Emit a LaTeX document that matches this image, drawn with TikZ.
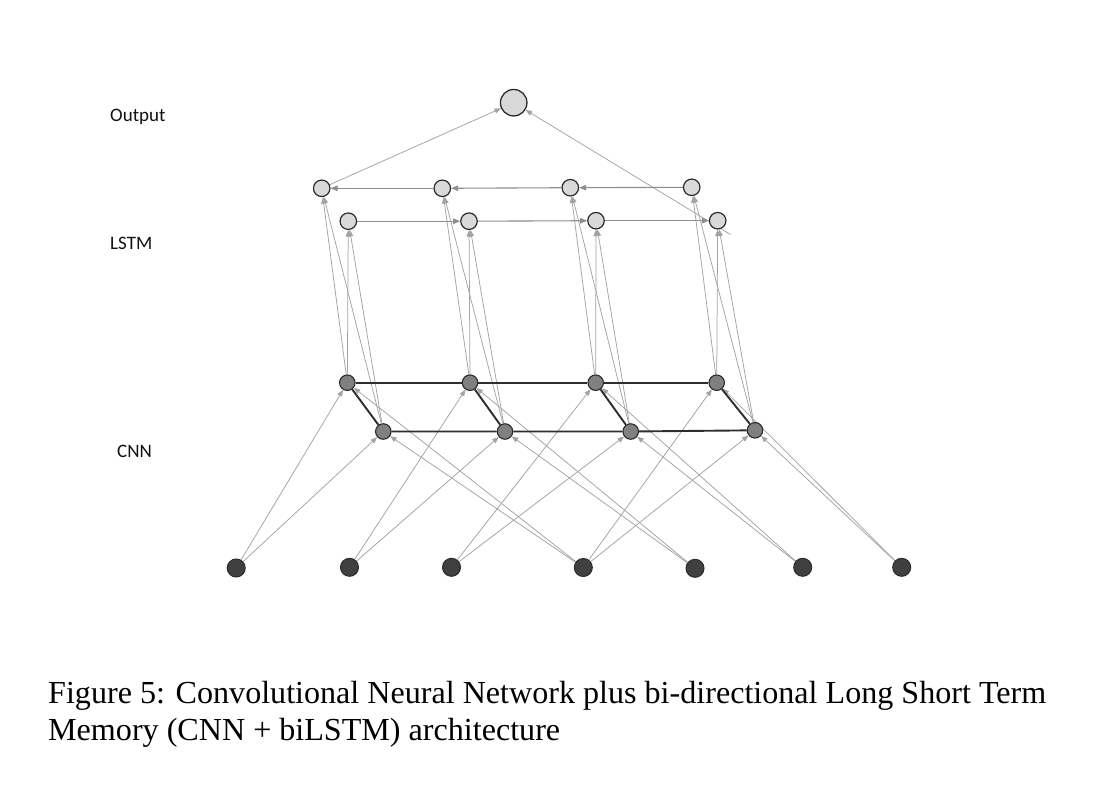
\documentclass[tikz,border=0pt]{standalone}
\usepackage{fontspec}
\setmainfont{Liberation Serif}
\newfontfamily\labelfont{Carlito}
\usetikzlibrary{arrows.meta,backgrounds}
\definecolor{nodeline}{HTML}{2B2B2B}
\definecolor{lightfill}{HTML}{D9D9D9}
\definecolor{midfill}{HTML}{808080}
\definecolor{darkfill}{HTML}{404040}
\definecolor{edgegray}{HTML}{A3A3A3}
\definecolor{recgray}{HTML}{8E8E8E}
\definecolor{darkline}{HTML}{2E2E2E}
\definecolor{textblack}{HTML}{111111}
\begin{document}
\begin{tikzpicture}[x=1pt,y=-1pt,
  outnode/.style={circle, draw=nodeline, fill=lightfill, line width=1.3pt, minimum size=26.5pt, inner sep=0pt},
  lstmnode/.style={circle, draw=nodeline, fill=lightfill, line width=1.2pt, minimum size=16.5pt, inner sep=0pt},
  cnnnode/.style={circle, draw=nodeline, fill=midfill, line width=1.1pt, minimum size=15.5pt, inner sep=0pt},
  innode/.style={circle, draw=nodeline, fill=darkfill, line width=1pt, minimum size=18pt, inner sep=0pt},
  edge/.style={draw=edgegray, line width=0.75pt, -{Triangle[length=6.5pt,width=5pt]}},
  recur/.style={draw=recgray, line width=1.1pt, -{Triangle[length=7pt,width=5.5pt]}},
  conv/.style={draw=darkline, line width=1.9pt},
  layerlabel/.style={font=\labelfont\fontsize{19}{22}\selectfont, text=textblack, anchor=base west, inner sep=0pt},
  captext/.style={font=\fontsize{32.1}{38}\selectfont, text=black, anchor=base west, inner sep=0pt}
]
\useasboundingbox (0,0) rectangle (1118,784);

% Output
\node[outnode] (Out) at (513.7,102.7) {};
% LSTM backward row
\node[lstmnode] (B1) at (321.7,188.3) {};
\node[lstmnode] (B2) at (442.3,188.3) {};
\node[lstmnode] (B3) at (570.3,187.7) {};
\node[lstmnode] (B4) at (691.7,187.3) {};
% LSTM forward row
\node[lstmnode] (F1) at (348.3,221.2) {};
\node[lstmnode] (F2) at (469.0,221.2) {};
\node[lstmnode] (F3) at (596.0,220.7) {};
\node[lstmnode] (F4) at (717.7,220.7) {};
% CNN rows
\node[cnnnode] (T1) at (347.3,382.7) {};
\node[cnnnode] (T2) at (470.0,382.7) {};
\node[cnnnode] (T3) at (595.7,382.7) {};
\node[cnnnode] (T4) at (716.7,382.7) {};
\node[cnnnode] (D1) at (383.3,431.5) {};
\node[cnnnode] (D2) at (505.0,431.5) {};
\node[cnnnode] (D3) at (630.7,431.5) {};
\node[cnnnode] (D4) at (755.0,430.3) {};
% Inputs
\node[innode] (I1) at (236.2,568.0) {};
\node[innode] (I2) at (349.5,567.3) {};
\node[innode] (I3) at (451.5,567.3) {};
\node[innode] (I4) at (583.3,567.5) {};
\node[innode] (I5) at (695.0,568.3) {};
\node[innode] (I6) at (802.7,567.3) {};
\node[innode] (I7) at (901.7,567.3) {};

\coordinate (tail) at (730.5,234.5);

\begin{pgfonlayer}{background}
  \fill[white] (0,0) rectangle (1118,784);
  % output connections
  \draw[edge] (B1) -- (Out);
  \draw[edge] (tail) -- (Out);
  % recurrent connections
  \draw[recur] (B4) -- (B3);
  \draw[recur] (B3) -- (B2);
  \draw[recur] (B2) -- (B1);
  \draw[recur] (F1) -- (F2);
  \draw[recur] (F2) -- (F3);
  \draw[recur] (F3) -- (F4);
  % CNN to LSTM
  \foreach \i in {1,...,4} {
    \draw[edge] (T\i) -- (B\i);
    \draw[edge] (D\i) -- (B\i);
    \draw[edge] (T\i) -- (F\i);
    \draw[edge] (D\i) -- (F\i);
  }
  % inputs to CNN
  \foreach \i [evaluate=\i as \j using int(\i+3)] in {1,...,4} {
    \draw[edge] (I\i) -- (T\i);
    \draw[edge] (I\i) -- (D\i);
    \draw[edge] (I\j) -- (T\i);
    \draw[edge] (I\j) -- (D\i);
  }
  % CNN internal connections
  \draw[conv] (T1) -- (T2) -- (T3) -- (T4);
  \draw[conv] (D1) -- (D2) -- (D3) -- (D4);
  \foreach \i in {1,...,4} {
    \draw[conv] (T\i) -- (D\i);
  }
\end{pgfonlayer}

% layer labels
\node[layerlabel] (lout) at (110,121) {Output};
\node[layerlabel] (llstm) at (110,249) {LSTM};
\node[layerlabel] (lcnn) at (117,457) {CNN};

% caption
\node[captext] (cap1) at (48,703) {Figure 5: Convolutional Neural Network plus bi-directional Long Short Term};
\node[captext] (cap2) at (48,740) {Memory (CNN + biLSTM) architecture};
\end{tikzpicture}
\end{document}
